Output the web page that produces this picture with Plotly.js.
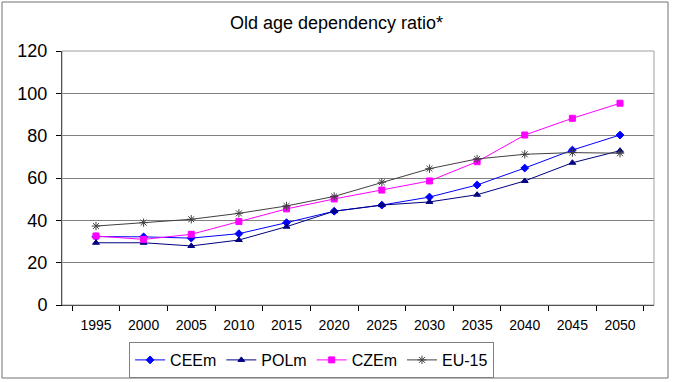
<!DOCTYPE html>
<html><head><meta charset="utf-8">
<script src="https://cdn.plot.ly/plotly-3.0.1.min.js"></script>
<style>html,body{margin:0;padding:0;background:#fff;}#chart{width:673px;height:382px;}</style>
</head><body><div id="chart"></div>
<script>
const years = ['1995','2000','2005','2010','2015','2020','2025','2030','2035','2040','2045','2050'];
const ceem = [32.3, 32.2, 31.6, 33.7, 38.9, 44.3, 47.2, 51.0, 56.7, 64.7, 73.2, 80.3];
const polm = [29.4, 29.4, 27.9, 30.7, 37.0, 44.3, 47.2, 48.7, 52.1, 58.6, 67.2, 72.9];
const czem = [32.6, 31.0, 33.4, 39.4, 45.4, 50.1, 54.3, 58.6, 67.7, 80.3, 88.2, 95.3];
const eu15 = [37.3, 38.9, 40.5, 43.3, 46.8, 51.3, 58.0, 64.4, 69.0, 71.2, 72.0, 71.7];

const mk = (name, y, color, symbol, size) => ({
  x: years, y: y, name: name, type: 'scatter', mode: 'lines+markers',
  line: {color: color, width: 1},
  marker: {color: color, symbol: symbol, size: size, line: {color: color, width: 1}}
});
const data = [
  mk('CEEm', ceem, '#0000FF', 'diamond', 6),
  mk('POLm', polm, '#000080', 'triangle-up', 6),
  mk('CZEm', czem, '#FF00FF', 'square', 6),
  mk('EU-15', eu15, '#404040', 'asterisk-open', 7)
];
const layout = {
  width: 673, height: 382,
  margin: {l: 62, r: 19, t: 51, b: 77},
  paper_bgcolor: '#fff', plot_bgcolor: '#fff',
  font: {family: 'Liberation Sans, Arial, sans-serif', color: '#000'},
  title: {text: 'Old age dependency ratio*', font: {size: 18}, x: 0.5, xanchor: 'center',
          xref: 'container', yref: 'container', y: 1 - 23/382, yanchor: 'middle'},
  xaxis: {type: 'category', tickfont: {size: 14}, ticks: 'outside', tickson: 'boundaries', ticklen: 5,
          tickcolor: '#000', showline: true, linecolor: '#000', mirror: false, showgrid: false,
          ticklabelstandoff: 7},
  yaxis: {range: [0, 120], dtick: 20, tickfont: {size: 18}, ticks: 'outside', ticklen: 5, tickcolor: '#000',
          showline: true, linecolor: '#000', gridcolor: '#808080', gridwidth: 1, zeroline: false,
          ticklabelstandoff: 5},
  shapes: [
    {type: 'rect', xref: 'paper', yref: 'paper', x0: 0, x1: 1, y0: 0, y1: 1, line: {color: '#a0a0a0', width: 1}},
    {type: 'rect', xref: 'paper', yref: 'paper', x0: (2-62)/592, x1: (668-62)/592, y0: (305-378)/254, y1: (305-2)/254,
     line: {color: '#707070', width: 1}}
  ],
  legend: {orientation: 'h', x: 0.463, xanchor: 'center', xref: 'container', yref: 'container',
           y: (382-342)/382, yanchor: 'top',
           bordercolor: '#808080', borderwidth: 1, font: {size: 16}, itemwidth: 30, tracegroupgap: 0},
  showlegend: true
};
Plotly.newPlot('chart', data, layout, {displayModeBar: false, staticPlot: true});
</script></body></html>
